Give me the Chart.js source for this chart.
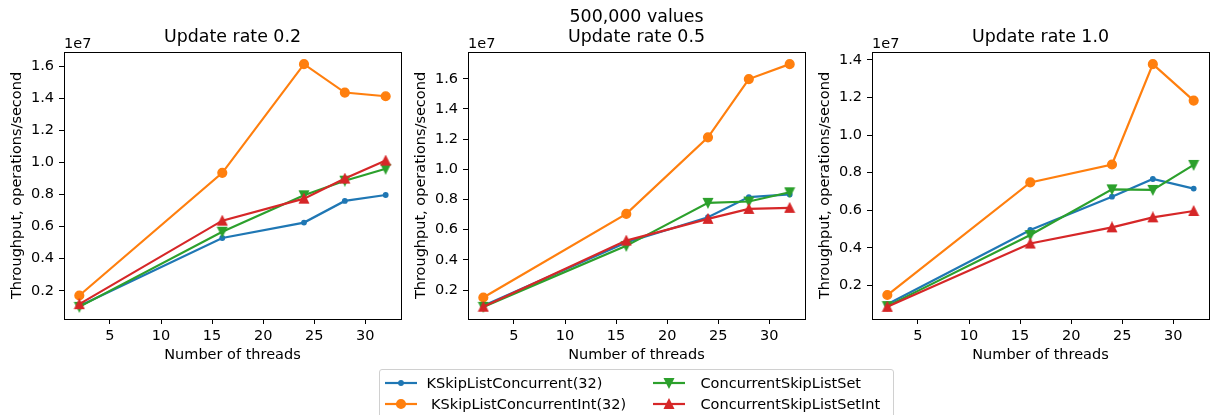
<!DOCTYPE html>
<html>
<head>
<meta charset="utf-8">
<script src="https://cdn.jsdelivr.net/npm/chart.js@4/dist/chart.umd.min.js"></script>
<style>
  body { margin: 0; background: #fff; }
  #wrap { position: relative; width: 1210px; height: 415px; overflow: hidden; }
  .panel { position: absolute; top: 0; }
  #legend {
    position: absolute; left: 379px; top: 369px; width: 513px; height: 60px;
    border: 1px solid #d0d0d0; border-radius: 3px; background: rgba(255,255,255,0.8);
    font-family: "DejaVu Sans", sans-serif; font-size: 14.5px; color: #000;
  }
  #legend canvas, #legend span { position: absolute; }
  #legend span { line-height: 17px; white-space: pre; }
</style>
</head>
<body>
<div id="wrap">
  <canvas id="p0" class="panel"></canvas>
  <canvas id="p1" class="panel"></canvas>
  <canvas id="p2" class="panel"></canvas>
  <div id="legend"></div>
</div>
<script>
// thread counts used in every run
const threads = [2, 16, 24, 28, 32];

// throughput, operations/second, update rate 0.2
const kslc_02 = [1050000, 5290000, 6250000, 7600000, 7970000];
const kslcInt_02 = [1710000, 9350000, 16120000, 14350000, 14120000];
const cslSet_02 = [1000000, 5680000, 7950000, 8860000, 9600000];
const cslSetInt_02 = [1170000, 6370000, 7740000, 8990000, 10110000];

// update rate 0.5
const kslc_05 = [960000, 5150000, 6830000, 8160000, 8340000];
const kslcInt_05 = [1510000, 7050000, 12120000, 15980000, 16970000];
const cslSet_05 = [890000, 4930000, 7780000, 7870000, 8480000];
const cslSetInt_05 = [900000, 5280000, 6720000, 7380000, 7450000];

// update rate 1.0
const kslc_10 = [1000000, 4950000, 6720000, 7660000, 7150000];
const kslcInt_10 = [1490000, 7480000, 8430000, 13770000, 11830000];
const cslSet_10 = [900000, 4680000, 7110000, 7080000, 8410000];
const cslSetInt_10 = [860000, 4230000, 5090000, 5620000, 5960000];

const seriesNames = ['KSkipListConcurrent(32)', ' KSkipListConcurrentInt(32)', 'ConcurrentSkipListSet', 'ConcurrentSkipListSetInt'];
const colors = ['#1f77b4', '#ff7f0e', '#2ca02c', '#d62728'];

const panels = [
  { title: ['Update rate 0.2'], series: [kslc_02, kslcInt_02, cslSet_02, cslSetInt_02] },
  { title: ['500,000 values', 'Update rate 0.5'], series: [kslc_05, kslcInt_05, cslSet_05, cslSetInt_05] },
  { title: ['Update rate 1.0'], series: [kslc_10, kslcInt_10, cslSet_10, cslSetInt_10] }
];

const FONT = 'DejaVu Sans';
const SCALE = 1e7; // y axis is plotted in units of 1e7
const canvasLeft = [0, 404, 808];
const AXIS_W = 64, PLOT_W = 337, PLOT_BOTTOM = 319, H = 370;

// square-ish triangles like matplotlib's ^ and v markers
function triangleMarker(color, down) {
  const c = document.createElement('canvas');
  c.width = 12; c.height = 12;
  const ctx = c.getContext('2d');
  const s = 4.35, m = 6;
  ctx.beginPath();
  if (down) {
    ctx.moveTo(m, m + s); ctx.lineTo(m - s, m - s); ctx.lineTo(m + s, m - s);
  } else {
    ctx.moveTo(m, m - s); ctx.lineTo(m - s, m + s); ctx.lineTo(m + s, m + s);
  }
  ctx.closePath();
  ctx.fillStyle = color; ctx.strokeStyle = color; ctx.lineWidth = 1.45;
  ctx.fill(); ctx.stroke();
  return c;
}

const markers = [
  { pointStyle: 'circle', radius: 2.2 },
  { pointStyle: 'circle', radius: 4.35 },
  { pointStyle: triangleMarker(colors[2], true), radius: 6 },
  { pointStyle: triangleMarker(colors[3], false), radius: 6 }
];

// full box round the plot area plus the "1e7" scale note
const framePlugin = {
  id: 'frame',
  afterDraw(chart) {
    const { ctx, chartArea: a } = chart;
    ctx.save();
    ctx.strokeStyle = '#000';
    ctx.lineWidth = 1;
    ctx.strokeRect(Math.round(a.left) + 0.5, Math.round(a.top) + 0.5,
      Math.round(a.right - a.left), Math.round(a.bottom - a.top));
    ctx.fillStyle = '#000';
    ctx.font = '14.5px "' + FONT + '"';
    ctx.textBaseline = 'alphabetic';
    ctx.textAlign = 'left';
    ctx.fillText('1e7', a.left, a.top - 4);
    ctx.restore();
  }
};

function padRange(values) {
  const lo = Math.min(...values), hi = Math.max(...values);
  const m = (hi - lo) * 0.05;
  return [lo - m, hi + m];
}

panels.forEach((p, i) => {
  const cv = document.getElementById('p' + i);
  cv.style.left = canvasLeft[i] + 'px';
  cv.width = AXIS_W + PLOT_W + 1;
  cv.height = H;
  cv.style.width = cv.width + 'px';
  cv.style.height = H + 'px';

  const [yMin, yMax] = padRange(p.series.flat().map(v => v / SCALE));
  const [xMin, xMax] = padRange(threads);

  new Chart(cv, {
    type: 'line',
    data: {
      datasets: p.series.map((vals, k) => ({
        label: seriesNames[k],
        data: threads.map((t, j) => ({ x: t, y: vals[j] / SCALE })),
        borderColor: colors[k],
        backgroundColor: colors[k],
        borderWidth: 2.2,
        pointStyle: markers[k].pointStyle,
        pointRadius: markers[k].radius,
        pointBorderWidth: 1.45,
        tension: 0,
        order: 3 - k
      }))
    },
    options: {
      responsive: false,
      animation: false,
      events: [],
      layout: { autoPadding: false, padding: { top: p.title.length === 1 ? 27.3 : 7.9, right: 1, bottom: 0, left: 0 } },
      plugins: {
        legend: { display: false },
        tooltip: { enabled: false },
        title: {
          display: true,
          text: p.title,
          fullSize: false,
          color: '#000',
          font: { family: FONT, size: 17.4, weight: 'normal', lineHeight: '19.4px' },
          padding: { top: 0, bottom: 5.3 }
        }
      },
      scales: {
        x: {
          type: 'linear',
          min: xMin, max: xMax,
          afterFit(s) { s.height = H - PLOT_BOTTOM; },
          border: { display: false },
          grid: { drawOnChartArea: false, drawTicks: true, tickLength: 5, color: '#000', lineWidth: 1 },
          ticks: { stepSize: 5, includeBounds: false, padding: 4, color: '#000', maxRotation: 0,
            font: { family: FONT, size: 14.5 } },
          title: { display: true, text: 'Number of threads', color: '#000',
            font: { family: FONT, size: 14.5 }, padding: { top: 0, bottom: 6.3 } }
        },
        y: {
          type: 'linear',
          min: yMin, max: yMax,
          afterFit(s) { s.width = AXIS_W; },
          border: { display: false },
          grid: { drawOnChartArea: false, drawTicks: true, tickLength: 5, color: '#000', lineWidth: 1 },
          ticks: { stepSize: 0.2, includeBounds: false, padding: 5, color: '#000',
            font: { family: FONT, size: 14.5 },
            callback: v => v.toFixed(1) },
          title: { display: true, text: 'Throughput, operations/second', color: '#000',
            font: { family: FONT, size: 14.5 }, padding: { top: 8.5, bottom: 0 } }
        }
      }
    },
    plugins: [framePlugin]
  });
});

// legend: two columns, handle drawn with the library's own point renderer
const legend = document.getElementById('legend');
const handleX = [5, 273], textX = [46.5, 320.5], rowY = [12.7, 33.7];
const cells = [[0, 0], [0, 1], [1, 0], [1, 1]];
seriesNames.forEach((name, k) => {
  const [col, row] = cells[k];
  const c = document.createElement('canvas');
  c.width = 32; c.height = 16;
  c.style.left = handleX[col] + 'px';
  c.style.top = (rowY[row] - 8) + 'px';
  const ctx = c.getContext('2d');
  ctx.strokeStyle = colors[k];
  ctx.lineWidth = 2.2;
  ctx.beginPath(); ctx.moveTo(0, 8); ctx.lineTo(32, 8); ctx.stroke();
  ctx.fillStyle = colors[k];
  ctx.lineWidth = 1.45;
  Chart.helpers.drawPoint(ctx, { pointStyle: markers[k].pointStyle, radius: markers[k].radius,
    rotation: 0, borderWidth: 1.45 }, 16, 8);
  legend.appendChild(c);
  const span = document.createElement('span');
  span.textContent = name;
  span.style.left = textX[col] + 'px';
  span.style.top = (rowY[row] - 7.7) + 'px';
  legend.appendChild(span);
});
</script>
</body>
</html>
